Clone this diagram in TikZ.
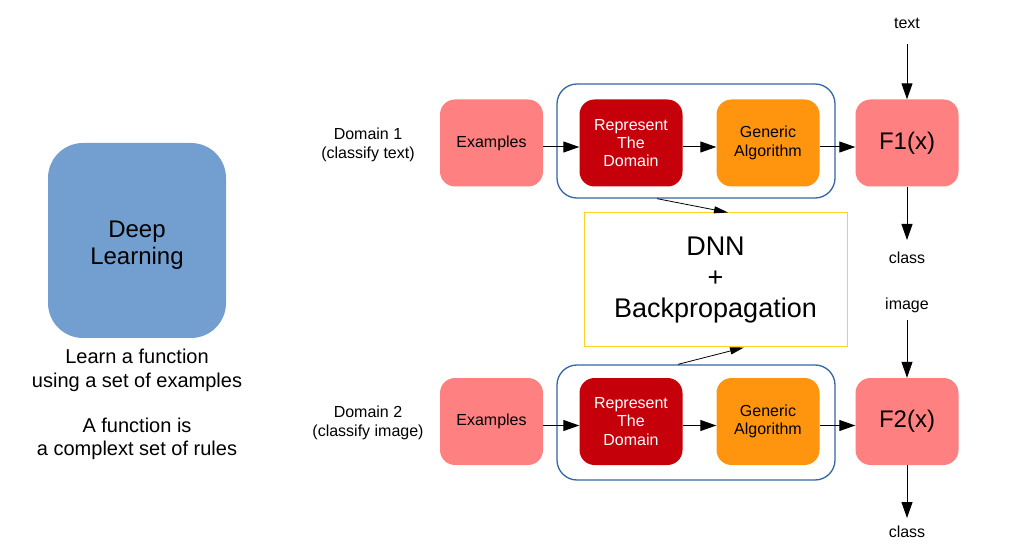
\documentclass[tikz,border=0pt]{standalone}
\usepackage{fontspec}
\setmainfont{Liberation Sans}
\usetikzlibrary{arrows.meta}
\definecolor{dlblue}{HTML}{729FCF}
\definecolor{salmon}{HTML}{FF8080}
\definecolor{darkred}{HTML}{C5000B}
\definecolor{orng}{HTML}{FF950E}
\definecolor{grpblue}{HTML}{3465A4}
\definecolor{ylw}{HTML}{FFD320}
\tikzset{
  box/.style={rounded corners=15pt, minimum width=103pt, minimum height=87pt, inner sep=0pt, align=center, font=\fontsize{16}{18.4}\selectfont},
  exbox/.style={box, fill=salmon},
  repbox/.style={box, fill=darkred, text=white},
  genbox/.style={box, fill=orng},
  fbox/.style={box, fill=salmon, font=\fontsize{24}{28}\selectfont},
  grp/.style={draw=grpblue, line width=1.3pt, rounded corners=20pt, minimum width=278pt, minimum height=114pt, inner sep=0pt},
  lbl/.style={align=center, inner sep=0pt, font=\fontsize{16}{18.4}\selectfont},
  arr/.style={-{Triangle[length=16pt,width=11pt]}, line width=1pt},
  thinarr/.style={-{Triangle[length=14pt,width=7pt]}, line width=0.8pt},
}
\begin{document}
\begin{tikzpicture}[x=1pt,y=-1pt]
\useasboundingbox (0,0) rectangle (1021,556);
% left
\node[fill=dlblue, rounded corners=35pt, minimum width=178pt, minimum height=195pt, inner sep=0pt, align=center, font=\fontsize{24}{27}\selectfont] (dl) at (137,240.5) {\rule{0pt}{25.5pt}Deep\\Learning};
\node[align=center, inner sep=0pt, font=\fontsize{20}{24}\selectfont] (learn) at (137,370) {Learn a function\\using a set of examples};
\node[align=center, inner sep=0pt, font=\fontsize{20}{23.5}\selectfont] (func) at (137,439) {A function is\\a complext set of rules};
% domain labels
\node[lbl] (dom1) at (368,145) {Domain 1\\(classify text)};
\node[lbl] (dom2) at (368,423) {Domain 2\\(classify image)};
% groups
\node[grp] (grp1) at (696,141) {};
\node[grp, minimum height=115pt] (grp2) at (696,422.5) {};
% row 1
\node[exbox] (ex1) at (491.5,143) {Examples};
\node[repbox] (rep1) at (631,143) {Represent\\The\\Domain};
\node[genbox] (gen1) at (768,143) {Generic\\Algorithm};
\node[fbox] (f1) at (907,143) {F1(x)};
% row 2
\node[exbox] (ex2) at (491.5,421.5) {Examples};
\node[repbox] (rep2) at (631,421.5) {Represent\\The\\Domain};
\node[genbox] (gen2) at (768,421.5) {Generic\\Algorithm};
\node[fbox] (f2) at (907,421.5) {F2(x)};
% DNN
\node[draw=ylw, line width=1pt, minimum width=263pt, minimum height=134pt, inner sep=0pt, align=center, font=\fontsize{27}{31}\selectfont] (dnn) at (715.5,280) {DNN\\+\\Backpropagation};
% side labels
\node[lbl] (txt) at (907,23) {text};
\node[lbl] (cls1) at (907,258) {class};
\node[lbl] (img) at (907,305) {image};
\node[lbl] (cls2) at (907,532) {class};
\coordinate (txtend) at (907,44);
\coordinate (c1end) at (907,240);
\coordinate (imgend) at (907,320);
\coordinate (c2end) at (907,518);
% arrows row 1
\draw[arr] ([yshift=-4pt]ex1.east) -- ([yshift=-4pt]rep1.west);
\draw[arr] ([yshift=-4pt]rep1.east) -- ([yshift=-4pt]gen1.west);
\draw[arr] ([yshift=-4pt]gen1.east) -- ([yshift=-4pt]f1.west);
\draw[arr] (txtend) -- (f1.north);
\draw[arr] (f1.south) -- (c1end);
% arrows row 2
\draw[arr] ([yshift=-4pt]ex2.east) -- ([yshift=-4pt]rep2.west);
\draw[arr] ([yshift=-4pt]rep2.east) -- ([yshift=-4pt]gen2.west);
\draw[arr] ([yshift=-4pt]gen2.east) -- ([yshift=-4pt]f2.west);
\draw[arr] (imgend) -- (f2.north);
\draw[arr] (f2.south) -- (c2end);
% DNN arrows
\draw[thinarr] ([xshift=-39pt]grp1.south) -- ([xshift=12.5pt]dnn.north);
\draw[thinarr] ([xshift=-18pt]grp2.north) -- ([xshift=28.5pt]dnn.south);
\end{tikzpicture}
\end{document}
